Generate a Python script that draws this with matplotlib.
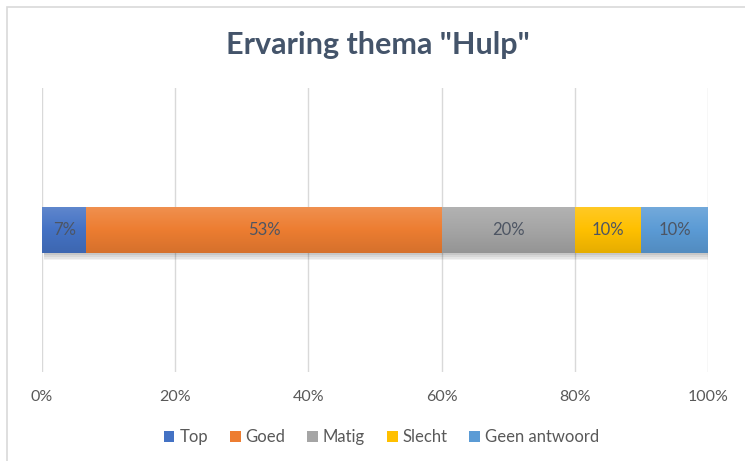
import numpy as np
import matplotlib
matplotlib.use('Agg')
from matplotlib import pyplot as plt
from matplotlib.patches import Rectangle
from matplotlib.colors import LinearSegmentedColormap, to_rgb

# answer categories and their share of responses (percent)
categories = ['Top', 'Goed', 'Matig', 'Slecht', 'Geen antwoord']
shares = [6.67, 53.33, 20.0, 10.0, 10.0]
colors = ['#4472C4', '#ED7D31', '#A5A5A5', '#FFC000', '#5B9BD5']
tick_values = [0, 20, 40, 60, 80, 100]
title = 'Ervaring thema "Hulp"'

text_color = '#595959'
label_color = '#4D5563'
grid_color = '#D9D9D9'


# -------------------------------------------------------------------------------
# Function - lighter / darker version of a colour for the bar gradient
# -------------------------------------------------------------------------------
def shade(color, factor):
    rgb = np.array(to_rgb(color))
    if factor > 0:
        return tuple(rgb + (1 - rgb) * factor)
    return tuple(rgb * (1 + factor))


# -------------------------------------------------------------------------------
# Function - draw one stacked segment with gradient fill
# -------------------------------------------------------------------------------
def draw_segment(ax, left, width, color, height=0.33, y=0.0):
    bar = ax.barh(y, width, left=left, height=height, color=color, zorder=3)[0]

    cmap = LinearSegmentedColormap.from_list(
        'grad', [shade(color, -0.10), color, shade(color, 0.15)])
    grad = np.linspace(0, 1, 64).reshape(-1, 1)
    img = ax.imshow(grad, cmap=cmap, aspect='auto', origin='lower',
                    extent=(left, left + width, y - height / 2, y + height / 2),
                    zorder=4, interpolation='bicubic')
    img.set_clip_path(bar)
    return bar


fig = plt.figure(figsize=(7.45, 4.61), dpi=100)
fig.patch.set_facecolor('white')

# chart area border (runs off the right and bottom edges)
fig.patches.append(Rectangle((7 / 745, -0.05), 1.1, 1 - 7 / 461 + 0.05,
                             transform=fig.transFigure, fill=False,
                             edgecolor='#D9D9D9', linewidth=1.2))

ax = fig.add_axes([42 / 745, 1 - 372 / 461, 666 / 745, 284 / 461])
ax.set_xlim(0, 100)
ax.set_ylim(-1, 1)

# shadow under the whole bar
for i, a in enumerate([0.05, 0.05, 0.06, 0.07]):
    off = 0.012 * (4 - i)
    ax.add_patch(Rectangle((0.3, -0.165 - off), 100, 0.33, facecolor='black',
                           alpha=a, edgecolor='none', zorder=2))

left = 0.0
for cat, val, col in zip(categories, shares, colors):
    draw_segment(ax, left, val, col)
    ax.text(left + val / 2, 0, f'{val:.0f}%', ha='center', va='center',
            fontsize=12, color=label_color, zorder=6, family='Lato')
    left += val

ax.set_xlim(0, 100)
ax.set_ylim(-1, 1)
ax.set_xticks(tick_values)
ax.set_xticklabels([f'{t}%' for t in tick_values], fontsize=11.5,
                   color=text_color, family='Lato')
ax.tick_params(axis='x', length=0, pad=13)
ax.set_yticks([])
ax.grid(axis='x', color=grid_color, linewidth=1, zorder=0)
ax.set_axisbelow(True)
for s in ax.spines.values():
    s.set_visible(False)

fig.text(0.507, 1 - 45 / 461, title, ha='center', va='center', fontsize=22,
         color='#44546A', family='Lato', fontweight='bold')

handles = [Rectangle((0, 0), 1, 1, facecolor=c) for c in colors]
leg = fig.legend(handles, categories, loc='center', ncol=5,
                 bbox_to_anchor=(0.512, 1 - 437 / 461), frameon=False,
                 handlelength=0.65, handleheight=0.65, handletextpad=0.3,
                 columnspacing=1.3, prop={'family': 'Lato', 'size': 12})
for t in leg.get_texts():
    t.set_color(text_color)

fig.savefig('out.png', dpi=100, facecolor='white')
